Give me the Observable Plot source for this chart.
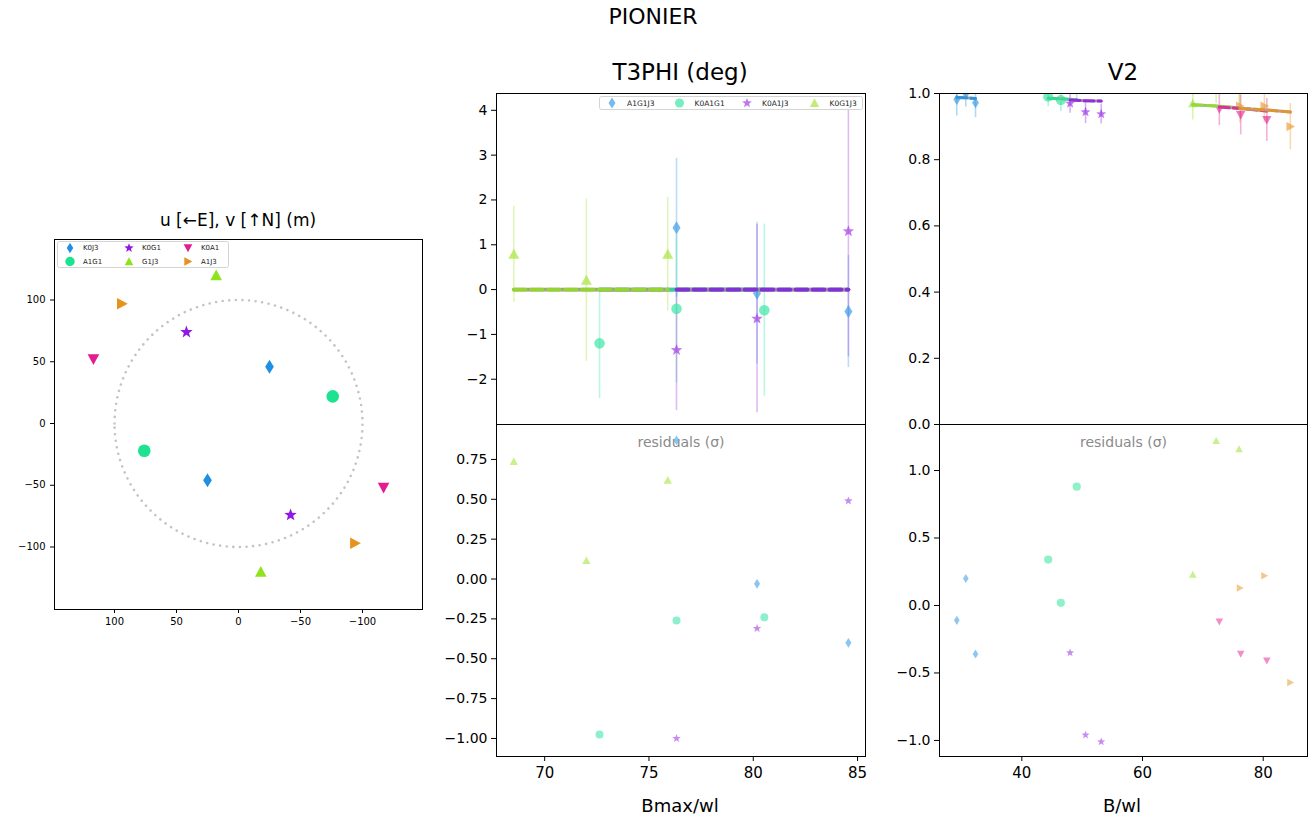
<!DOCTYPE html>
<html><head><meta charset="utf-8">
<script src="https://cdn.jsdelivr.net/npm/d3@7"></script>
<script src="https://cdn.jsdelivr.net/npm/@observablehq/plot@0.6"></script>
<style>
body{margin:0;background:#fff;}
#root{position:relative;width:1313px;height:822px;overflow:hidden;font-family:"DejaVu Sans",sans-serif;background:#fff}
.t{position:absolute;transform:translate(-50%,-50%);white-space:nowrap;color:#000;line-height:1}
</style></head>
<body><div id="root"></div>
<script>
// ---------------- DATA ----------------
// uv coverage (m)
const uvBase = ["K0J3","K0J3","A1G1","A1G1","K0G1","K0G1","G1J3","G1J3","K0A1","K0A1","A1J3","A1J3"];
const uvU = [-25, 25, -76, 76, 42, -42, 18, -18, 117, -117, 94, -94];
const uvV = [46, -46, 22, -22, 74, -74, 120, -120, 52, -52, 97, -97];
const uvKeys = ["K0J3","A1G1","K0G1","G1J3","K0A1","A1J3"];

// T3PHI (deg)
const t3Tri = ["A1G1J3","A1G1J3","A1G1J3","K0A1G1","K0A1G1","K0A1G1","K0A1J3","K0A1J3","K0A1J3","K0G1J3","K0G1J3","K0G1J3"];
const t3X = [76.32, 80.18, 84.56, 72.63, 76.32, 80.53, 76.32, 80.18, 84.56, 68.52, 72.0, 75.9];
const t3Phi = [1.38, -0.08, -0.49, -1.2, -0.43, -0.46, -1.35, -0.65, 1.3, 0.79, 0.21, 0.79];
const t3Err = [1.55, 1.58, 1.25, 1.23, 1.65, 1.92, 1.35, 2.1, 2.8, 1.07, 1.81, 1.27];
const t3Model = [0, 0, 0, 0, 0, 0, 0, 0, 0, 0, 0, 0];
const t3Res = [0.87, -0.03, -0.40, -0.975, -0.26, -0.24, -1.0, -0.31, 0.49, 0.737, 0.116, 0.62];
const t3Keys = ["A1G1J3","K0A1G1","K0A1J3","K0G1J3"];

// V2
const v2Base = ["K0J3","K0J3","K0J3","A1G1","A1G1","A1G1","K0G1","K0G1","K0G1","G1J3","G1J3","G1J3","K0A1","K0A1","K0A1","A1J3","A1J3","A1J3"];
const v2X = [29.23, 30.72, 32.33, 44.37, 46.47, 49.1, 48.0, 50.56, 53.16, 68.33, 72.2, 76.0, 72.73, 76.27, 80.6, 76.15, 80.2, 84.5];
const v2Val = [0.982, 0.999, 0.972, 0.99, 0.98, 1.02, 0.97, 0.944, 0.938, 0.97, 1.02, 1.015, 0.953, 0.935, 0.92, 0.962, 0.962, 0.90];
const v2Err = [0.05, 0.04, 0.045, 0.03, 0.035, 0.04, 0.03, 0.035, 0.03, 0.05, 0.05, 0.05, 0.05, 0.06, 0.065, 0.05, 0.05, 0.07];
const v2Model = [0.988, 0.987, 0.985, 0.986, 0.984, 0.981, 0.98, 0.978, 0.977, 0.966, 0.962, 0.957, 0.959, 0.955, 0.947, 0.955, 0.951, 0.944];
const v2Res = [-0.11, 0.2, -0.36, 0.34, 0.02, 0.88, -0.35, -0.96, -1.01, 0.23, 1.22, 1.16, -0.12, -0.36, -0.41, 0.13, 0.22, -0.57];

// tick labels
const uvTicks = [100, 50, 0, -50, -100];
const t3Ticks = [-2, -1, 0, 1, 2, 3, 4];
const t3ResTicks = [-1, -0.75, -0.5, -0.25, 0, 0.25, 0.5, 0.75];
const t3XTicks = [70, 75, 80, 85];
const v2Ticks = [0, 0.2, 0.4, 0.6, 0.8, 1.0];
const v2ResTicks = [-1, -0.5, 0, 0.5, 1];
const v2XTicks = [40, 60, 80];

// ---------------- STYLE ----------------
const FONT = "DejaVu Sans";
const BCOL = {K0J3:"#1f8fe3", A1G1:"#1de391", K0G1:"#9118e3", G1J3:"#8fe31d", K0A1:"#e31d8f", A1J3:"#e8921e"};
const TCOL = {A1G1J3:"#3d9ee6", K0A1G1:"#3de6a8", K0A1J3:"#a23de6", K0G1J3:"#a6e63d"};
const TLINE = {A1G1J3:"#3a8fd8", K0A1G1:"#30d49a", K0A1J3:"#8430d8", K0G1J3:"#96d430"};

function poly(pts){return {draw(ctx,size){const r=Math.sqrt(size/Math.PI);ctx.moveTo(pts[0][0]*r,pts[0][1]*r);for(let k=1;k<pts.length;k++)ctx.lineTo(pts[k][0]*r,pts[k][1]*r);ctx.closePath();}};}
const symCircle = {draw(ctx,size){const r=Math.sqrt(size/Math.PI);ctx.moveTo(r,0);ctx.arc(0,0,r,0,2*Math.PI);}};
const symDiamond = poly([[0,-1],[0.62,0],[0,1],[-0.62,0]]);
const symTriUp = poly([[0,-1],[1,0.85],[-1,0.85]]);
const symTriDown = poly([[0,1],[1,-0.85],[-1,-0.85]]);
const symTriRight = poly([[1,0],[-0.85,-1],[-0.85,1]]);
const symStar = poly(d3.range(10).map(k=>{const a=-Math.PI/2+k*Math.PI/5, s=k%2?0.42:1;return [Math.cos(a)*s,Math.sin(a)*s];}));
const BSYM = {K0J3:symDiamond, A1G1:symCircle, K0G1:symStar, G1J3:symTriUp, K0A1:symTriDown, A1J3:symTriRight};
const BR = {K0J3:7, A1G1:6.3, K0G1:6.5, G1J3:5.8, K0A1:5.8, A1J3:5.8};
const TSYM = {A1G1J3:symDiamond, K0A1G1:symCircle, K0A1J3:symStar, K0G1J3:symTriUp};
const TR = {A1G1J3:6.5, K0A1G1:5.3, K0A1J3:6, K0G1J3:5.5};

const root = document.getElementById("root");
function place(el, left, top){el.style.position="absolute";el.style.left=left+"px";el.style.top=top+"px";root.appendChild(el);return el;}
function label(text, x, y, size, color){const d=document.createElement("div");d.className="t";d.textContent=text;d.style.left=x+"px";d.style.top=y+"px";d.style.fontSize=size+"px";if(color)d.style.color=color;root.appendChild(d);}
const plotStyle = {fontFamily:FONT, fontSize:"14px", color:"#000", background:"transparent", overflow:"visible"};

// ---------------- UV PLOT ----------------
const uvRows = uvBase.map((b,i)=>({b, u:uvU[i], v:uvV[i]}));
const ring = d3.range(0, 361, 2).map(a=>({u:100*Math.cos(a*Math.PI/180), v:100*Math.sin(a*Math.PI/180)}));
const uvPlot = Plot.plot({
  width:440, height:440, marginLeft:54, marginRight:18, marginTop:39, marginBottom:31,
  style:plotStyle,
  x:{domain:[148.4,-148.4]}, y:{domain:[-150.6,149]},
  marks:[
    Plot.line(ring, {x:"u", y:"v", stroke:"#c4c4c4", strokeWidth:2.6, strokeDasharray:"0.01,6.6", strokeLinecap:"round"}),
    ...uvKeys.map(k=>Plot.dot(uvRows.filter(d=>d.b===k), {x:"u", y:"v", symbol:BSYM[k], r:BR[k], fill:BCOL[k], stroke:"none"})),
    Plot.frame({stroke:"#000", strokeWidth:1}),
    Plot.axisX({ticks:uvTicks, tickSize:4, tickPadding:4, fontSize:10, label:null}),
    Plot.axisY({ticks:uvTicks, tickSize:4, fontSize:10, label:null})
  ]
});
place(uvPlot, 0, 200);

// ---------------- T3PHI ----------------
const t3Rows = t3Tri.map((t,i)=>({t, x:t3X[i], y:t3Phi[i], e:t3Err[i], m:t3Model[i], r:t3Res[i]}));
const t3XDomain = [67.69, 85.38];
const t3Top = Plot.plot({
  width:440, height:342, marginLeft:60, marginRight:11, marginTop:10, marginBottom:1,
  style:plotStyle,
  x:{domain:t3XDomain, axis:null}, y:{domain:[-3.01,4.375]},
  marks:[
    ...t3Keys.map(k=>Plot.ruleX(t3Rows.filter(d=>d.t===k), {x:"x", y1:d=>d.y-d.e, y2:d=>d.y+d.e, stroke:TCOL[k], strokeOpacity:0.35, strokeWidth:1.6, clip:true})),
    ...t3Keys.map(k=>Plot.dot(t3Rows.filter(d=>d.t===k), {x:"x", y:"y", symbol:TSYM[k], r:TR[k], fill:TCOL[k], fillOpacity:0.7, stroke:"none", clip:true})),
    ...t3Keys.flatMap(k=>[
      Plot.line(t3Rows.filter(d=>d.t===k), {x:"x", y:"m", stroke:"#9a9a9a", strokeWidth:3.8}),
      Plot.line(t3Rows.filter(d=>d.t===k), {x:"x", y:"m", stroke:TLINE[k], strokeWidth:3.8, strokeDasharray:"12,5"})
    ]),
    Plot.frame({stroke:"#000"}),
    Plot.axisY({ticks:t3Ticks, tickSize:5, fontSize:14, label:null})
  ]
});
place(t3Top, 436, 83);

const t3Bot = Plot.plot({
  width:440, height:402, marginLeft:60, marginRight:11, marginTop:10, marginBottom:60,
  style:plotStyle,
  x:{domain:t3XDomain}, y:{domain:[-1.113,0.969]},
  marks:[
    Plot.text(["residuals (σ)"], {text:d=>d, frameAnchor:"top", dy:13, fill:"#8a8a8a", fontSize:14}),
    ...t3Keys.map(k=>Plot.dot(t3Rows.filter(d=>d.t===k), {x:"x", y:"r", symbol:TSYM[k], r:TR[k]*0.75, fill:TCOL[k], fillOpacity:0.6, stroke:"none", clip:true})),
    Plot.frame({stroke:"#000"}),
    Plot.axisY({ticks:t3ResTicks, tickFormat:d3.format(".2f"), tickSize:5, fontSize:14, label:null}),
    Plot.axisX({ticks:t3XTicks, tickSize:5, tickPadding:6, fontSize:15, label:null})
  ]
});
place(t3Bot, 436, 414);

// ---------------- V2 ----------------
const v2Rows = v2Base.map((b,i)=>({b, x:v2X[i], y:v2Val[i], e:v2Err[i], m:v2Model[i], r:v2Res[i]}));
const v2XDomain = [26.36, 87.34];
const v2Top = Plot.plot({
  width:433, height:342, marginLeft:59, marginRight:6, marginTop:10, marginBottom:1,
  style:plotStyle,
  x:{domain:v2XDomain, axis:null}, y:{domain:[0,1]},
  marks:[
    ...uvKeys.map(k=>Plot.ruleX(v2Rows.filter(d=>d.b===k), {x:"x", y1:d=>d.y-d.e, y2:d=>d.y+d.e, stroke:BCOL[k], strokeOpacity:0.35, strokeWidth:1.6, clip:true})),
    ...uvKeys.map(k=>Plot.dot(v2Rows.filter(d=>d.b===k), {x:"x", y:"y", symbol:BSYM[k], r:BR[k]*0.8, fill:BCOL[k], fillOpacity:0.6, stroke:"none", clip:true})),
    ...uvKeys.flatMap(k=>[
      Plot.line(v2Rows.filter(d=>d.b===k), {x:"x", y:"m", stroke:"#a8a8a8", strokeWidth:3, clip:true}),
      Plot.line(v2Rows.filter(d=>d.b===k), {x:"x", y:"m", stroke:BCOL[k], strokeOpacity:0.85, strokeWidth:3, strokeDasharray:"10,4", clip:true})
    ]),
    Plot.frame({stroke:"#000"}),
    Plot.axisY({ticks:v2Ticks, tickFormat:d3.format(".1f"), tickSize:5, fontSize:14, label:null})
  ]
});
place(v2Top, 880, 83);

const v2Bot = Plot.plot({
  width:433, height:402, marginLeft:59, marginRight:6, marginTop:10, marginBottom:60,
  style:plotStyle,
  x:{domain:v2XDomain}, y:{domain:[-1.119,1.341]},
  marks:[
    Plot.text(["residuals (σ)"], {text:d=>d, frameAnchor:"top", dy:13, fill:"#8a8a8a", fontSize:14}),
    ...uvKeys.map(k=>Plot.dot(v2Rows.filter(d=>d.b===k), {x:"x", y:"r", symbol:BSYM[k], r:BR[k]*0.65, fill:BCOL[k], fillOpacity:0.5, stroke:"none", clip:true})),
    Plot.frame({stroke:"#000"}),
    Plot.axisY({ticks:v2ResTicks, tickFormat:d3.format(".1f"), tickSize:5, fontSize:14, label:null}),
    Plot.axisX({ticks:v2XTicks, tickSize:5, tickPadding:6, fontSize:15, label:null})
  ]
});
place(v2Bot, 880, 414);

// ---------------- LEGENDS ----------------
function legend(items, cfg){
  const svg = d3.create("svg").attr("width",cfg.w).attr("height",cfg.h);
  svg.append("rect").attr("x",0.5).attr("y",0.5).attr("width",cfg.w-1).attr("height",cfg.h-1).attr("rx",2)
     .attr("fill","#fff").attr("fill-opacity",0.85).attr("stroke","#d4d4d4");
  items.forEach((it,i)=>{
    const p = cfg.pos(i);
    svg.append("path").attr("transform",`translate(${p[0]},${p[1]})`)
      .attr("d", d3.symbol(it.sym, it.r*it.r*Math.PI)()).attr("fill",it.color).attr("fill-opacity",cfg.op);
    svg.append("text").attr("x",p[0]+cfg.tx).attr("y",p[1]).attr("dy","0.35em")
      .attr("font-family",FONT).attr("font-size",cfg.fs).attr("fill","#222").text(it.name);
  });
  return svg.node();
}
place(legend(uvKeys.map(k=>({name:k, sym:BSYM[k], r:BR[k]*0.75, color:BCOL[k]})),
  {w:172, h:27, fs:7, tx:13, op:1, pos:i=>[13+Math.floor(i/2)*59, 7+(i%2)*13.5]}), 57, 241);
place(legend(t3Keys.map(k=>({name:k, sym:TSYM[k], r:TR[k]*0.85, color:TCOL[k]})),
  {w:264, h:14, fs:7.5, tx:15, op:0.7, pos:i=>[13+i*67.5, 7]}), 599, 96);

// ---------------- TEXTS ----------------
label("PIONIER", 653, 17, 22);
label("T3PHI (deg)", 680, 72, 23);
label("V2", 1123, 72, 23);
label("u [\u2190E], v [\u2191N] (m)", 238, 220, 17);
label("Bmax/wl", 680, 806, 18);
label("B/wl", 1122, 806, 18);
</script>
</body></html>
